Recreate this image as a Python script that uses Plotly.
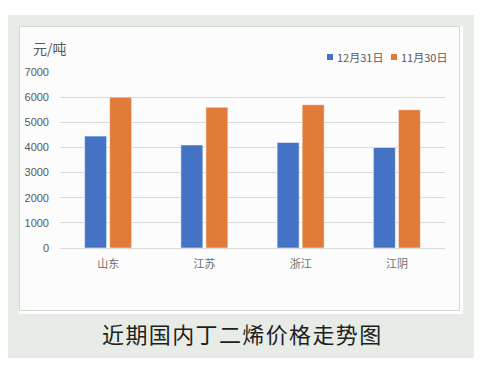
import plotly.graph_objects as go

categories = ["山东", "江苏", "浙江", "江阴"]
series_names = ["12月31日", "11月30日"]
dec31 = [4450, 4100, 4200, 4000]
nov30 = [6000, 5600, 5700, 5500]
colors = ["#4472C4", "#E07B39"]
y_ticks = [0, 1000, 2000, 3000, 4000, 5000, 6000, 7000]

# page is rendered with the default 8px body margin
OFF = 8
W, H = 484 - 2 * OFF, 368 - 2 * OFF
L, R, T, B = 60, 445, 72, 248  # plot area in page pixels


def px(x):
    return (x - L) / (R - L)


def py(y):
    return (B - y) / (B - T)


fig = go.Figure()
for name, vals, c in zip(series_names, [dec31, nov30], colors):
    fig.add_trace(go.Bar(
        x=categories, y=vals, name=name, showlegend=False,
        marker=dict(color=c, line=dict(color="rgba(255,255,255,0.55)", width=1)),
    ))

shapes = [
    dict(type="rect", xref="paper", yref="paper", x0=px(8), x1=px(474), y0=py(358), y1=py(15),
         fillcolor="#e8ece6", line=dict(width=0), layer="below"),
    dict(type="rect", xref="paper", yref="paper", x0=px(19), x1=px(463), y0=py(314), y1=py(26),
         fillcolor="#ffffff", line=dict(width=0), layer="below"),
    dict(type="rect", xref="paper", yref="paper", x0=px(19.5), x1=px(459.5), y0=py(310.5), y1=py(26.5),
         fillcolor="#fcfcfc", line=dict(color="#d6d6d6", width=1), layer="below"),
]

annotations = [
    dict(text="元/吨", xref="paper", yref="paper", x=px(31), y=py(48), xanchor="left", yanchor="middle",
         showarrow=False, font=dict(size=14, color="#595959", family="Noto Sans CJK SC")),
    dict(text="\u200a".join("近期国内丁二烯价格走势图"), xref="paper", yref="paper", x=px(241), y=py(333),
         xanchor="center", yanchor="middle", showarrow=False,
         font=dict(size=22, color="#1e1e1e", family="Noto Sans CJK SC")),
]

# legend (square swatch + label), laid out like the reference
legend_x = [327, 391]
for name, c, lx in zip(series_names, colors, legend_x):
    shapes.append(dict(type="rect", xref="paper", yref="paper", x0=px(lx), x1=px(lx + 6),
                       y0=py(60), y1=py(54), fillcolor=c, line=dict(width=0)))
    annotations.append(dict(text=name, xref="paper", yref="paper", x=px(lx + 8), y=py(57),
                            xanchor="left", yanchor="middle", showarrow=False,
                            font=dict(size=11, color="#595959", family="Noto Sans CJK SC")))

fig.update_layout(
    width=W, height=H,
    margin=dict(l=L - OFF, r=(W + OFF) - R, t=T - OFF, b=(H + OFF) - B, pad=0, autoexpand=False),
    paper_bgcolor="#ffffff", plot_bgcolor="rgba(0,0,0,0)",
    barmode="group", bargap=0.48, bargroupgap=0.12,
    shapes=shapes, annotations=annotations,
    showlegend=False,
    font=dict(family="Noto Sans CJK SC", color="#595959"),
)
fig.update_xaxes(showgrid=False, showline=True, linecolor="#d9d9d9", linewidth=1, ticks="",
                 tickfont=dict(size=11, color="#6f6f6f"), ticklabelstandoff=6, automargin=False)
fig.update_yaxes(range=[0, 7000], tickvals=y_ticks, showgrid=True, gridcolor="#d9d9d9", gridwidth=1,
                 zeroline=False, showline=False, ticks="", automargin=False,
                 tickfont=dict(size=11, color="#595959", family="Liberation Sans"), ticklabelstandoff=10)

fig.write_html("out.html")
